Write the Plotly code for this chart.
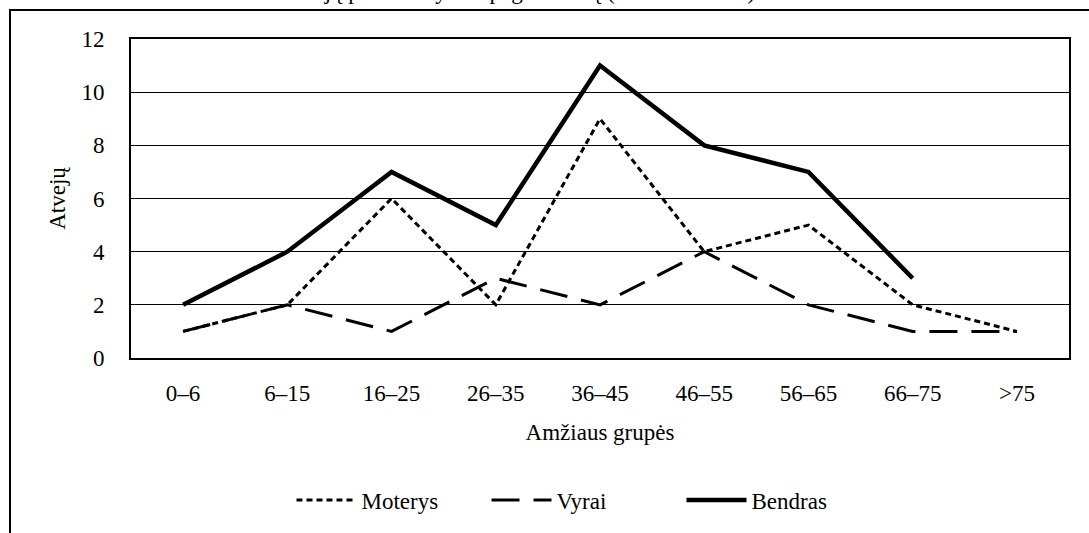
import plotly.graph_objects as go

categories = ["0–6", "6–15", "16–25", "26–35", "36–45", "46–55", "56–65", "66–75", ">75"]
moterys = [1, 2, 6, 2, 9, 4, 5, 2, 1]
vyrai = [1, 2, 1, 3, 2, 4, 2, 1, 1]
bendras = [2, 4, 7, 5, 11, 8, 7, 3, None]
y_ticks = [0, 2, 4, 6, 8, 10, 12]

FONT = "Liberation Serif, Times New Roman, serif"
FS = 23
W, H = 1089, 533
L, R, T, B = 131, 20, 39, 175
pw, ph = W - L - R, H - T - B

def px(x):
    return (x - L) / pw

def py(y):
    return (H - B - y) / ph

fig = go.Figure()
fig.add_trace(go.Scatter(x=categories, y=moterys, name="Moterys", mode="lines",
                         line=dict(color="black", width=3, dash="6px,4px")))
fig.add_trace(go.Scatter(x=categories, y=vyrai, name="Vyrai", mode="lines",
                         line=dict(color="black", width=3, dash="28px,14px")))
fig.add_trace(go.Scatter(x=categories, y=bendras, name="Bendras", mode="lines",
                         line=dict(color="black", width=4.5), connectgaps=False))

fig.update_layout(
    width=W, height=H,
    margin=dict(l=L, r=R, t=T, b=B),
    paper_bgcolor="white", plot_bgcolor="white",
    font=dict(family=FONT, size=FS, color="black"),
    showlegend=True,
    legend=dict(orientation="h", x=px(584), y=py(500), xanchor="center", yanchor="middle",
                font=dict(family=FONT, size=FS), bgcolor="rgba(0,0,0,0)",
                traceorder="normal", entrywidth=120, itemwidth=60),
    xaxis=dict(
        type="category", categoryorder="array", categoryarray=categories,
        showgrid=False, showline=True, mirror=True, linecolor="black", linewidth=2,
        ticks="", ticklabelstandoff=13,
        tickfont=dict(family=FONT, size=FS),
        title=dict(text="Amžiaus grupės", font=dict(family=FONT, size=FS), standoff=19),
        range=[-0.5, len(categories) - 0.5],
    ),
    yaxis=dict(
        range=[0, 12], tickvals=y_ticks, showgrid=True, gridcolor="black", gridwidth=1,
        showline=True, mirror=True, linecolor="black", linewidth=2, zeroline=False,
        ticks="", ticklabelstandoff=20,
        tickfont=dict(family=FONT, size=FS),
        title=dict(text="Atvejų", font=dict(family=FONT, size=FS), standoff=9),
    ),
    shapes=[dict(type="rect", xref="paper", yref="paper",
                 x0=px(10), x1=px(1200), y0=py(700), y1=py(10),
                 line=dict(color="black", width=2), fillcolor="rgba(0,0,0,0)", layer="below")],
    annotations=[dict(text="Atvejų pasiskirstymas pagal amžių (2005–2015 m.)",
                      xref="paper", yref="paper", x=px(757), y=py(6),
                      xanchor="right", yanchor="bottom", showarrow=False,
                      font=dict(family=FONT, size=FS))],
)

fig.write_html("out.html", config={"displayModeBar": False},
               post_script="document.body.style.margin='0';document.body.style.overflow='hidden';")
